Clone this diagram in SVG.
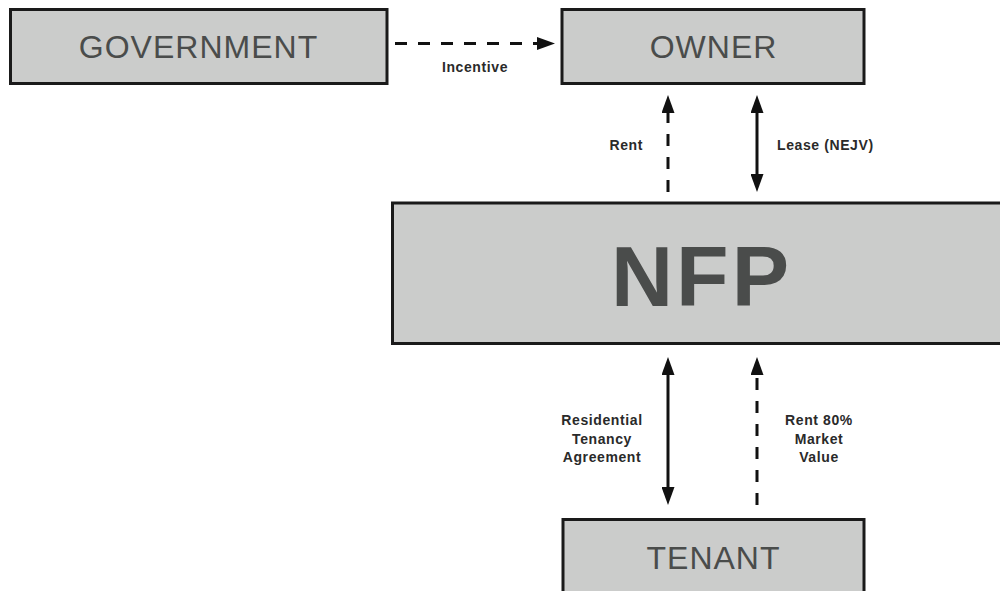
<svg xmlns="http://www.w3.org/2000/svg" width="1000" height="591" viewBox="0 0 1000 591">
  <style>
    .box { fill: #cbcccb; stroke: #1a1a1a; stroke-width: 3; }
    .title { font-family: "Liberation Sans", Arial, sans-serif; font-size: 32px; fill: #4a4c4b; text-anchor: middle; letter-spacing: 1px; }
    .big { font-family: "Liberation Sans", Arial, sans-serif; font-size: 86px; font-weight: bold; fill: #4a4c4b; text-anchor: middle; letter-spacing: 3px; }
    .lbl { font-family: "Liberation Sans", Arial, sans-serif; font-size: 14px; font-weight: bold; fill: #2a2a2a; letter-spacing: 0.6px; }
    .conn { stroke: #111; stroke-width: 3; fill: none; }
    .dash { stroke-dasharray: 12 11; }
  </style>
  <defs>
    <marker id="head" markerUnits="userSpaceOnUse" viewBox="0 0 18 13" markerWidth="18" markerHeight="13" refX="0" refY="6.5" orient="auto-start-reverse">
      <path d="M0,0 L18,6.5 L0,13 Z" fill="#111"/>
    </marker>
  </defs>
  <rect width="1000" height="591" fill="#ffffff"/>

  <g id="government">
    <rect class="box" x="10.5" y="9.5" width="376.5" height="74"/>
    <text class="title" x="198.5" y="58">GOVERNMENT</text>
  </g>
  <g id="owner">
    <rect class="box" x="562" y="9.5" width="302" height="74"/>
    <text class="title" x="713.5" y="58">OWNER</text>
  </g>
  <g id="nfp">
    <rect class="box" x="392.5" y="203" width="700" height="140.5"/>
    <text class="big" x="701.5" y="306">NFP</text>
  </g>
  <g id="tenant">
    <rect class="box" x="563" y="519.5" width="301" height="100"/>
    <text class="title" x="713.5" y="569">TENANT</text>
  </g>

  <g id="connectors">
    <line class="conn dash" x1="395" y1="43.5" x2="537" y2="43.5" marker-end="url(#head)"/>
    <line class="conn dash" x1="668" y1="192" x2="668" y2="113" marker-end="url(#head)"/>
    <line class="conn" x1="757" y1="113" x2="757" y2="174" marker-start="url(#head)" marker-end="url(#head)"/>
    <line class="conn" x1="668" y1="375" x2="668" y2="487" marker-start="url(#head)" marker-end="url(#head)"/>
    <line class="conn dash" x1="757" y1="505" x2="757" y2="375" marker-end="url(#head)"/>
  </g>

  <g id="labels">
    <text class="lbl" x="475" y="72" text-anchor="middle">Incentive</text>
    <text class="lbl" x="643" y="150" text-anchor="end">Rent</text>
    <text class="lbl" x="777" y="150">Lease (NEJV)</text>
    <text class="lbl" x="602" y="425" text-anchor="middle">Residential</text>
    <text class="lbl" x="602" y="443.5" text-anchor="middle">Tenancy</text>
    <text class="lbl" x="602" y="462" text-anchor="middle">Agreement</text>
    <text class="lbl" x="819" y="425" text-anchor="middle">Rent 80%</text>
    <text class="lbl" x="819" y="443.5" text-anchor="middle">Market</text>
    <text class="lbl" x="819" y="462" text-anchor="middle">Value</text>
  </g>
</svg>
